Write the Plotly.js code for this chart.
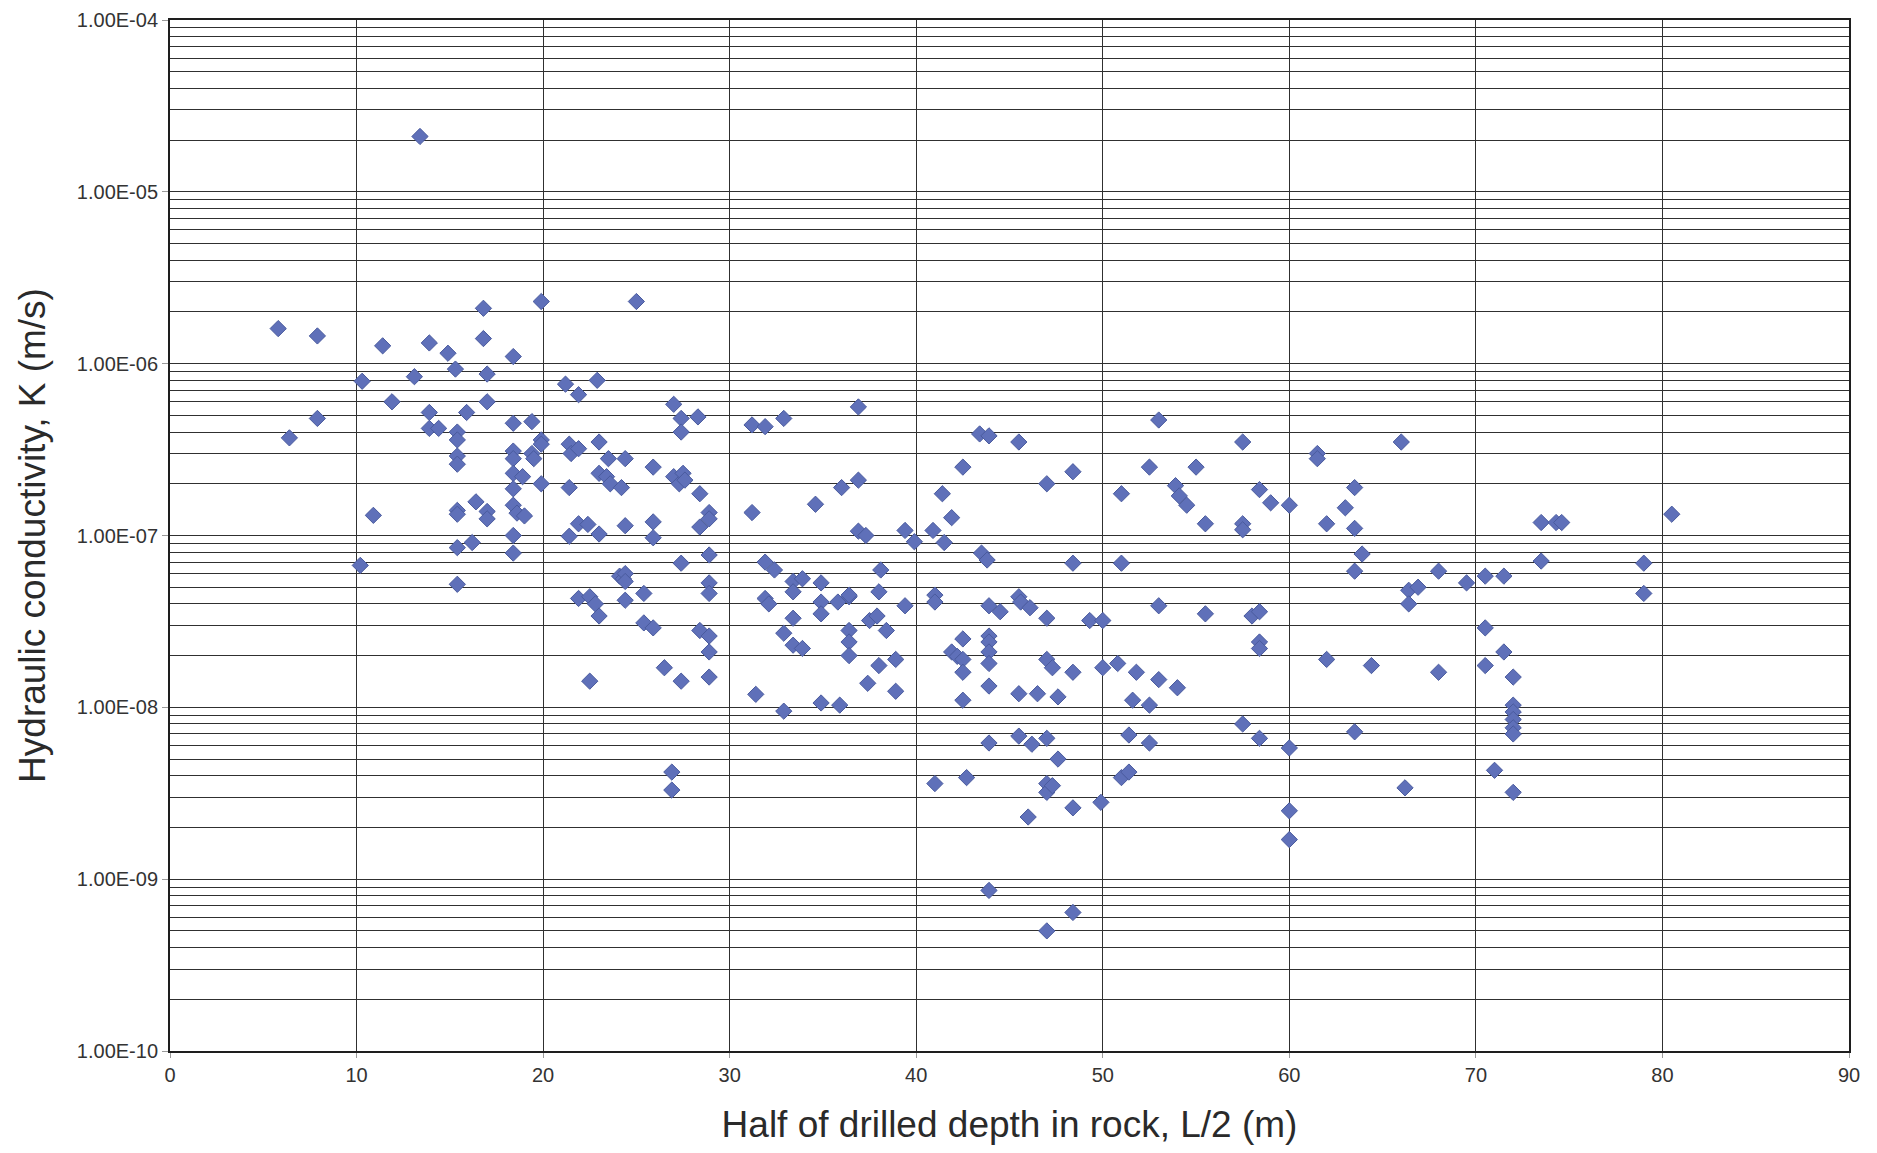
<!DOCTYPE html>
<html>
<head>
<meta charset="utf-8">
<script src="https://cdn.plot.ly/plotly-3.0.1.min.js"></script>
<style>
  html, body { margin: 0; padding: 0; background: #ffffff; }
  #chart { width: 1877px; height: 1153px; }
</style>
</head>
<body>
<div id="chart"></div>
<script>
// Half of drilled depth in rock, L/2 (m)
const depth = [
  5.8, 7.9, 6.4, 7.9, 10.3, 10.2, 10.9, 11.4, 11.9, 13.1,
  13.4, 13.9, 13.9, 13.9, 14.4, 14.9, 15.3, 15.4, 15.4, 15.4,
  15.4, 15.4, 15.4, 15.4, 15.4, 15.9, 16.2, 16.4, 16.8, 16.8,
  17.0, 17.0, 17.0, 17.0, 18.4, 18.4, 18.4, 18.4, 18.4, 18.4,
  18.4, 18.6, 18.4, 18.4, 18.9, 19.0, 19.4, 19.4, 19.5, 19.9,
  19.9, 19.9, 19.9, 21.2, 21.4, 21.5, 21.4, 21.4, 21.9, 21.9,
  21.9, 21.9, 22.4, 22.5, 22.5, 22.8, 22.9, 23.0, 23.0, 23.0,
  23.0, 23.4, 23.5, 23.6, 24.2, 24.1, 24.3, 24.4, 24.4, 24.4,
  24.4, 24.4, 25.0, 25.4, 25.4, 25.9, 25.9, 25.9, 25.9, 26.5,
  27.0, 26.9, 26.9, 27.0, 27.3, 27.4, 27.4, 27.4, 27.4, 27.5,
  27.6, 28.3, 28.4, 28.4, 28.4, 28.9, 28.9, 28.9, 28.9, 28.9,
  28.9, 28.9, 28.9, 31.2, 31.2, 31.4, 31.9, 31.9, 31.9, 32.1,
  32.4, 32.9, 32.9, 32.9, 33.4, 33.4, 33.4, 33.4, 33.9, 33.9,
  34.6, 34.9, 34.9, 34.9, 34.9, 35.9, 35.8, 36.0, 36.4, 36.4,
  36.4, 36.4, 36.4, 36.9, 36.9, 36.9, 37.3, 37.4, 37.5, 37.9,
  38.0, 38.1, 38.4, 38.0, 38.9, 38.9, 39.4, 39.4, 39.9, 40.9,
  41.0, 41.0, 41.0, 41.4, 41.5, 41.9, 41.9, 42.2, 42.5, 42.5,
  42.5, 42.5, 42.5, 42.7, 43.5, 43.4, 43.9, 43.8, 43.9, 43.9,
  43.9, 43.9, 43.9, 43.9, 43.9, 43.9, 44.5, 45.5, 45.5, 45.6,
  45.5, 45.5, 46.1, 46.2, 46.0, 46.5, 47.0, 47.0, 47.0, 47.0,
  47.0, 47.0, 47.0, 47.3, 47.3, 47.6, 47.6, 48.4, 48.4, 48.4,
  48.4, 48.4, 49.3, 50.0, 50.0, 49.9, 50.8, 51.0, 51.0, 51.0,
  51.4, 51.6, 51.4, 51.8, 52.5, 52.5, 52.5, 53.0, 53.0, 53.0,
  54.0, 53.9, 54.1, 54.5, 55.0, 55.5, 55.5, 57.5, 57.5, 57.5,
  57.5, 58.0, 58.4, 58.4, 58.4, 58.4, 58.4, 59.0, 60.0, 60.0,
  60.0, 60.0, 61.5, 61.5, 62.0, 62.0, 63.0, 63.5, 63.5, 63.5,
  63.5, 63.9, 64.4, 66.0, 66.4, 66.4, 66.9, 66.2, 68.0, 68.0,
  69.5, 70.5, 70.5, 70.5, 71.0, 71.5, 71.5, 72.0, 72.0, 72.0,
  72.0, 72.0, 72.0, 72.0, 73.5, 73.5, 74.3, 74.6, 79.0, 79.0,
  80.5
];

// Hydraulic conductivity, K (m/s)
const conductivity = [
  1.6e-6, 1.45e-6, 3.7e-7, 4.8e-7, 7.9e-7, 6.7e-8, 1.31e-7, 1.27e-6, 6e-7, 8.4e-7,
  2.1e-5, 1.32e-6, 5.2e-7, 4.2e-7, 4.2e-7, 1.15e-6, 9.3e-7, 4e-7, 3.6e-7, 2.9e-7,
  2.6e-7, 1.4e-7, 1.33e-7, 8.5e-8, 5.2e-8, 5.2e-7, 9.1e-8, 1.57e-7, 2.1e-6, 1.4e-6,
  8.7e-7, 6e-7, 1.38e-7, 1.25e-7, 1.1e-6, 4.5e-7, 3.1e-7, 2.8e-7, 2.3e-7, 1.87e-7,
  1.5e-7, 1.35e-7, 1e-7, 7.9e-8, 2.2e-7, 1.3e-7, 4.6e-7, 3e-7, 2.8e-7, 3.6e-7,
  3.4e-7, 2e-7, 2.3e-6, 7.6e-7, 3.4e-7, 3e-7, 1.9e-7, 9.9e-8, 6.6e-7, 3.2e-7,
  1.17e-7, 4.3e-8, 1.16e-7, 1.42e-8, 4.4e-8, 4e-8, 8e-7, 3.5e-7, 2.3e-7, 1.02e-7,
  3.4e-8, 2.2e-7, 2.8e-7, 2e-7, 1.9e-7, 5.8e-8, 5.6e-8, 2.8e-7, 1.14e-7, 6e-8,
  4.2e-8, 5.4e-8, 2.3e-6, 4.6e-8, 3.1e-8, 2.5e-7, 1.2e-7, 9.7e-8, 2.9e-8, 1.7e-8,
  5.8e-7, 4.2e-9, 3.3e-9, 2.2e-7, 2e-7, 4.8e-7, 4e-7, 6.9e-8, 1.42e-8, 2.3e-7,
  2.1e-7, 4.9e-7, 1.75e-7, 1.12e-7, 2.8e-8, 1.36e-7, 1.25e-7, 7.7e-8, 5.3e-8, 4.6e-8,
  2.6e-8, 2.1e-8, 1.5e-8, 4.4e-7, 1.36e-7, 1.19e-8, 4.3e-7, 7e-8, 4.3e-8, 4e-8,
  6.3e-8, 4.8e-7, 2.7e-8, 9.5e-9, 5.4e-8, 4.7e-8, 3.3e-8, 2.3e-8, 2.2e-8, 5.6e-8,
  1.52e-7, 5.3e-8, 4.1e-8, 3.5e-8, 1.06e-8, 1.03e-8, 4.1e-8, 1.9e-7, 4.4e-8, 2.8e-8,
  2.4e-8, 2e-8, 4.5e-8, 5.6e-7, 2.1e-7, 1.06e-7, 1e-7, 1.38e-8, 3.2e-8, 3.4e-8,
  4.7e-8, 6.3e-8, 2.8e-8, 1.75e-8, 1.9e-8, 1.24e-8, 3.9e-8, 1.07e-7, 9.2e-8, 1.07e-7,
  4.5e-8, 4.1e-8, 3.6e-9, 1.75e-7, 9.1e-8, 1.27e-7, 2.1e-8, 1.98e-8, 2.5e-7, 2.5e-8,
  1.9e-8, 1.6e-8, 1.1e-8, 3.9e-9, 7.9e-8, 3.9e-7, 3.8e-7, 7.2e-8, 3.9e-8, 2.6e-8,
  2.4e-8, 2.1e-8, 1.8e-8, 1.33e-8, 6.2e-9, 8.6e-10, 3.6e-8, 3.5e-7, 4.4e-8, 4.1e-8,
  1.2e-8, 6.8e-9, 3.8e-8, 6.1e-9, 2.3e-9, 1.2e-8, 2e-7, 3.3e-8, 1.9e-8, 6.6e-9,
  3.6e-9, 3.2e-9, 5e-10, 1.7e-8, 3.5e-9, 1.15e-8, 5e-9, 6.9e-8, 2.35e-7, 1.6e-8,
  2.6e-9, 6.4e-10, 3.2e-8, 3.2e-8, 1.7e-8, 2.8e-9, 1.8e-8, 1.75e-7, 6.9e-8, 3.9e-9,
  4.2e-9, 1.1e-8, 6.9e-9, 1.6e-8, 2.5e-7, 1.03e-8, 6.2e-9, 4.7e-7, 3.9e-8, 1.45e-8,
  1.3e-8, 1.95e-7, 1.7e-7, 1.5e-7, 2.5e-7, 1.17e-7, 3.5e-8, 3.5e-7, 1.17e-7, 1.08e-7,
  8e-9, 3.4e-8, 3.6e-8, 2.4e-8, 2.2e-8, 6.6e-9, 1.85e-7, 1.55e-7, 1.5e-7, 5.8e-9,
  2.5e-9, 1.7e-9, 3e-7, 2.8e-7, 1.17e-7, 1.9e-8, 1.45e-7, 1.9e-7, 1.1e-7, 6.2e-8,
  7.2e-9, 7.8e-8, 1.75e-8, 3.5e-7, 4.8e-8, 4e-8, 5e-8, 3.4e-9, 1.6e-8, 6.2e-8,
  5.3e-8, 5.8e-8, 2.9e-8, 1.75e-8, 4.3e-9, 5.8e-8, 2.1e-8, 1.5e-8, 1.03e-8, 9.4e-9,
  8.5e-9, 7.6e-9, 7e-9, 3.2e-9, 7.1e-8, 1.19e-7, 1.19e-7, 1.19e-7, 6.9e-8, 4.6e-8,
  1.33e-7
];

// Axis ticks
const xTicks = [0, 10, 20, 30, 40, 50, 60, 70, 80, 90];
const yDecades = [1e-10, 1e-9, 1e-8, 1e-7, 1e-6, 1e-5, 1e-4];
const yTickText = ['1.00E-10', '1.00E-09', '1.00E-08', '1.00E-07', '1.00E-06', '1.00E-05', '1.00E-04'];

// Minor grid lines at 2..9 within each decade
const yMinor = [];
for (let e = -10; e < -4; e++) {
  for (let m = 2; m <= 9; m++) yMinor.push(m * Math.pow(10, e));
}

const FONT = '"Liberation Sans", Arial, Helvetica, sans-serif';
const GRID = '#303030';

const trace = {
  type: 'scatter',
  mode: 'markers',
  x: depth,
  y: conductivity,
  marker: {
    symbol: 'diamond',
    size: 12.5,
    color: '#5f70b9',
    line: { color: '#4a5b9e', width: 1 }
  },
  hoverinfo: 'x+y'
};

const layout = {
  width: 1877,
  height: 1153,
  margin: { l: 170, r: 28, t: 20, b: 102 },
  paper_bgcolor: '#ffffff',
  plot_bgcolor: '#ffffff',
  showlegend: false,
  font: { family: FONT, color: '#2a2a2a', size: 20 },
  xaxis: {
    range: [0, 90],
    tickmode: 'array',
    tickvals: xTicks,
    ticks: 'outside',
    ticklen: 5,
    tickcolor: '#9a9a9a',
    tickfont: { family: FONT, size: 20, color: '#333333' },
    showgrid: true,
    gridcolor: GRID,
    gridwidth: 1,
    zeroline: false,
    showline: true,
    linecolor: '#1e1e1e',
    linewidth: 2,
    mirror: true,
    title: {
      text: 'Half of drilled depth in rock, L/2 (m)',
      font: { family: FONT, size: 37, color: '#2a2a2a' },
      standoff: 26
    }
  },
  yaxis: {
    type: 'log',
    range: [-10, -4],
    tickmode: 'array',
    tickvals: yDecades,
    ticktext: yTickText,
    ticks: 'outside',
    ticklen: 6,
    tickcolor: '#9a9a9a',
    tickfont: { family: FONT, size: 20, color: '#333333' },
    showgrid: true,
    gridcolor: GRID,
    gridwidth: 1,
    minor: {
      tickmode: 'array',
      tickvals: yMinor,
      showgrid: true,
      gridcolor: GRID,
      gridwidth: 1,
      ticks: ''
    },
    zeroline: false,
    showline: true,
    linecolor: '#1e1e1e',
    linewidth: 2,
    mirror: true,
    title: {
      text: 'Hydraulic conductivity, K (m/s)',
      font: { family: FONT, size: 37, color: '#2a2a2a' },
      standoff: 20
    }
  }
};

Plotly.newPlot('chart', [trace], layout, { displayModeBar: false, staticPlot: true });
</script>
</body>
</html>
